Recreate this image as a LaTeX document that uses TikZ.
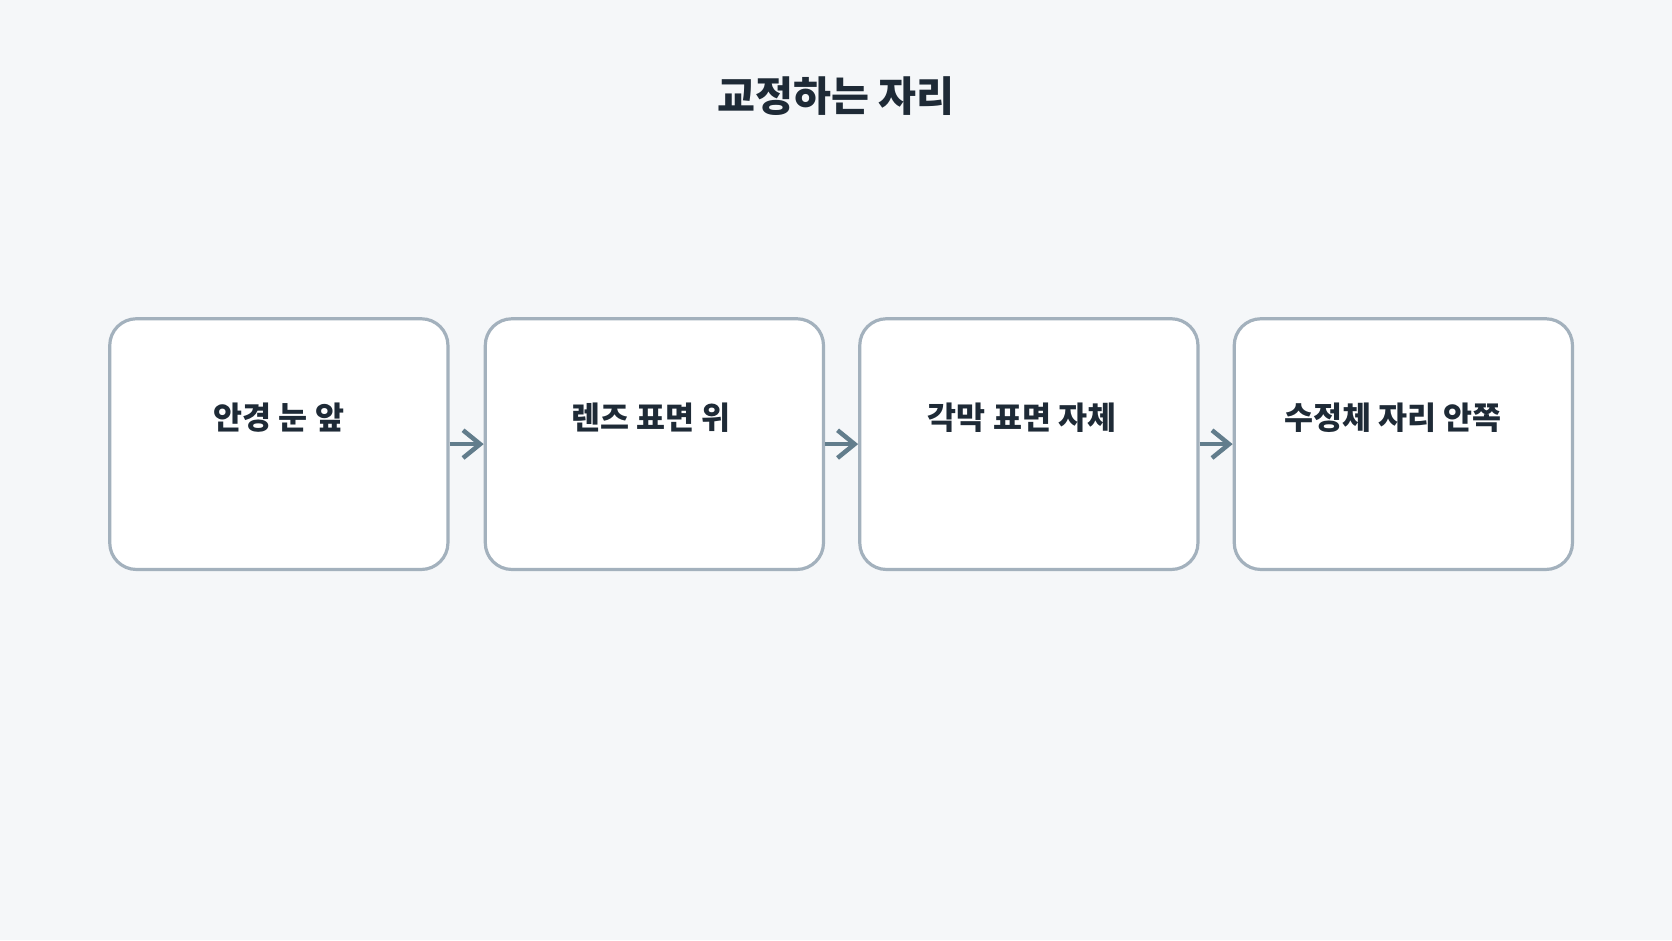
\documentclass[tikz,border=0pt]{standalone}
\usepackage{fontspec}
\newfontfamily\cjk{Noto Sans CJK KR}
\usetikzlibrary{positioning,arrows.meta}
\definecolor{bgcol}{HTML}{F5F7F9}
\definecolor{boxline}{HTML}{A3B1BD}
\definecolor{arrowcol}{HTML}{627D8C}
\definecolor{textcol}{HTML}{1E2A36}
\begin{document}
\begin{tikzpicture}[x=0.01cm,y=0.01cm,
	stage/.style={draw=boxline, line width=0.85pt, fill=white, rounded corners=0.25cm,
		minimum width=3.17cm, minimum height=2.35cm, inner sep=0pt},
	stagetext/.style={font=\cjk\bfseries\fontsize{8.4}{10}\selectfont, text=textcol},
	flow/.style={-{Straight Barb[length=1.6mm,width=2.6mm]}, draw=arrowcol, line width=1.2pt}]
		% Background
		\fill[bgcol] (0,0) rectangle (1568,-882);
		\useasboundingbox (0,0) rectangle (1568,-882);
		
		% Title
		\node[font=\cjk\bfseries\fontsize{11}{13}\selectfont, text=textcol] (title) at (784,-90) {교정하는 자리};
		
		% Boxes
		\node[stage] (glasses) at (261.5,-416.5) {};
		\node[stage, right=0.32cm of glasses] (lens) {};
		\node[stage, right=0.31cm of lens] (cornea) {};
		\node[stage, right=0.31cm of cornea] (crystal) {};
		
		% Labels
		\node[stagetext] at (261.5,-392) {안경 눈 앞};
		\node[stagetext] at (610.5,-392) {렌즈 표면 위};
		\node[stagetext] at (958.5,-392) {각막 표면 자체};
		\node[stagetext] at (1306.5,-392) {수정체 자리 안쪽};
		
		% Arrows
		\draw[flow] (glasses) -- (lens);
		\draw[flow] (lens) -- (cornea);
		\draw[flow] (cornea) -- (crystal);
	\end{tikzpicture}
\end{document}
